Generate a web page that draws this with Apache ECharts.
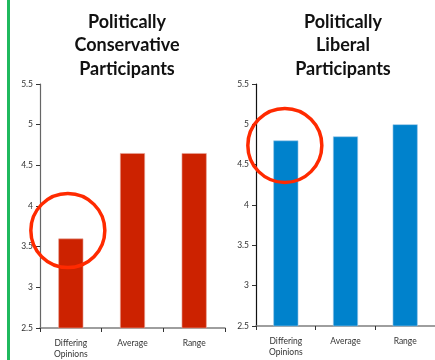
<!DOCTYPE html>
<html>
<head>
<meta charset="utf-8">
<script src="https://cdn.jsdelivr.net/npm/echarts@6/dist/echarts.min.js"></script>
<style>
  html, body { margin: 0; padding: 0; background: #fff; }
  #chart { width: 435px; height: 360px; }
</style>
</head>
<body>
<div id="chart"></div>
<script>
const categories = ['Differing\nOpinions', 'Average', 'Range']
const conservativeValues = [3.6, 4.65, 4.65]
const liberalValues = [4.8, 4.85, 5.0]
const titles = ['Politically\nConservative\nParticipants', 'Politically\nLiberal\nParticipants']
const yMin = 2.5
const yMax = 5.5
const yStep = 0.5

const font = 'Lato, "Open Sans", sans-serif'

function xAxis(gridIndex) {
    return {
        type: 'category',
        gridIndex: gridIndex,
        data: categories,
        axisLine: { lineStyle: { color: '#7f7f7f', width: 1.5 } },
        axisTick: { show: true, length: 4, lineStyle: { color: '#333' } },
        axisLabel: {
            fontSize: 8.5,
            lineHeight: 11,
            color: '#333',
            margin: 10,
            fontFamily: font,
        },
    }
}

function yAxis(gridIndex, color) {
    return {
        type: 'value',
        gridIndex: gridIndex,
        min: yMin,
        max: yMax,
        interval: yStep,
        splitLine: { show: false },
        axisLine: { show: true, lineStyle: { color: color, width: 1.2 } },
        axisTick: { show: true, length: 4, lineStyle: { color: '#333' } },
        axisLabel: {
            fontSize: 8.5,
            color: '#333',
            margin: 7,
            fontFamily: font,
        },
    }
}

const titleStyle = { fontSize: 18, fontWeight: 'bold', lineHeight: 23.5, color: '#111', fontFamily: font }

const option = {
    animation: false,
    title: [
        { text: titles[0], left: 122, top: 5, textAlign: 'center', textStyle: titleStyle },
        { text: titles[1], left: 338, top: 5, textAlign: 'center', textStyle: titleStyle },
    ],
    grid: [
        { left: 40, top: 84, width: 185, height: 245 },
        { left: 256, top: 84, width: 187, height: 242 },
    ],
    xAxis: [xAxis(0), xAxis(1)],
    yAxis: [yAxis(0, '#666'), yAxis(1, '#111')],
    series: [
        {
            type: 'bar',
            xAxisIndex: 0,
            yAxisIndex: 0,
            data: conservativeValues,
            barWidth: 25,
            itemStyle: { color: '#cc2200', borderColor: '#e8a89a', borderWidth: 0.6 },
        },
        {
            type: 'bar',
            xAxisIndex: 1,
            yAxisIndex: 1,
            data: liberalValues,
            barWidth: 25,
            itemStyle: { color: '#0082cc', borderColor: '#9cc8e8', borderWidth: 0.6 },
        },
    ],
}

const chart = echarts.init(document.getElementById('chart'), null, { renderer: 'canvas' })
chart.setOption(option)

// circles around the first bar of each chart, placed from the axis scales
const c1 = chart.convertToPixel({ gridIndex: 0 }, [0, conservativeValues[0]])
const c2 = chart.convertToPixel({ gridIndex: 1 }, [0, liberalValues[0]])

chart.setOption({
    graphic: [
        {
            type: 'line',
            shape: { x1: 8.5, y1: 0, x2: 8.5, y2: 360 },
            style: { stroke: '#1fb95e', lineWidth: 3 },
        },
        {
            type: 'circle',
            shape: { cx: c1[0] - 3, cy: c1[1] - 8, r: 37 },
            style: { fill: 'none', stroke: '#ff2a00', lineWidth: 3.5 },
            z: 100,
        },
        {
            type: 'circle',
            shape: { cx: c2[0] - 1, cy: c2[1] + 5, r: 37 },
            style: { fill: 'none', stroke: '#ff2a00', lineWidth: 3.5 },
            z: 100,
        },
    ],
})
</script>
</body>
</html>
